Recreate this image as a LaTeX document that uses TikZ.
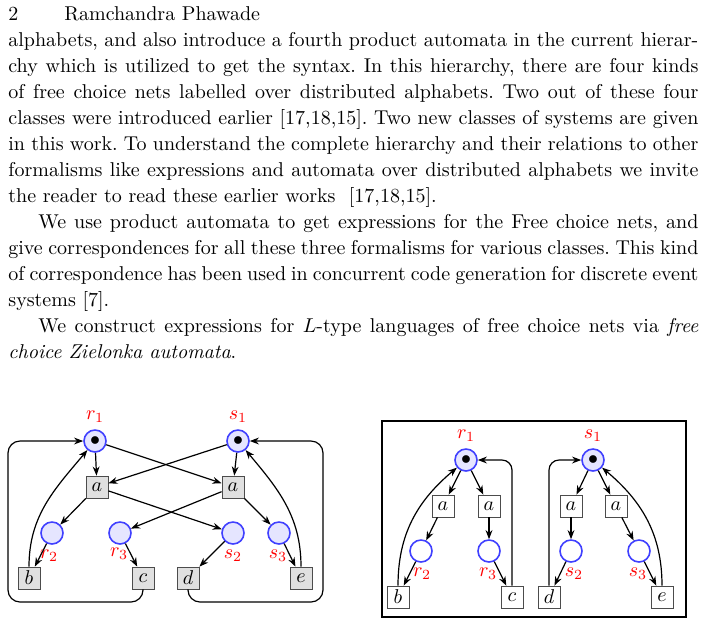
\documentclass[tikz,border=0pt]{standalone}
\usepackage{amsmath}
\usetikzlibrary{arrows, positioning, arrows.meta, fit, shapes}

\tikzset{
  place/.style={draw=blue!75, circle, fill=blue!10, thick, minimum size=11pt, inner sep=0pt},
  token/.style={place, label={[inner sep=0pt]center:$\bullet$}},
  trans/.style={draw=black!70, fill=black!12, minimum size=11pt, inner sep=0pt},
  wtrans/.style={trans, fill=white},
  plabel/.style={text=red},
  arc/.style={arrows={-Stealth[scale=0.8]}, semithick},
}

\begin{document}
\begin{tikzpicture}[x=0.5pt, y=-0.5pt]
    \useasboundingbox (0,0) rectangle (705,623);
    % Page text
    \node[anchor=base west, inner sep=0pt] (pageno) at (8,20) {2};
    \node[anchor=base west, inner sep=0pt] (author) at (64,20) {Ramchandra Phawade};
    \node[anchor=north west, inner sep=0pt, text width=345pt, align=justify] (body) at (8,32) {%
      \frenchspacing\baselineskip=13pt
      alphabets, and also introduce a fourth product automata in the current hierar-\linebreak
      chy which is utilized to get the syntax. In this hierarchy, there are four kinds
      of free choice nets labelled over distributed alphabets. Two out of these four
      classes were introduced earlier [17,18,15]. Two new classes of systems are given
      in this work. To understand the complete hierarchy and their relations to other
      formalisms like expressions and automata over distributed alphabets we invite
      the reader to read these earlier works~~[17,18,15].\par
      \hspace*{15pt}We use product automata to get expressions for the Free choice nets, and\linebreak
      give correspondences for all these three formalisms for various classes. This kind\linebreak
      of correspondence has been used in concurrent code generation for discrete event\linebreak
      systems [7].\par
      \hspace*{15pt}We construct expressions for $L$-type languages of free choice nets via \emph{free
      choice Zielonka automata}.\par};

    % Left net
    \node[token] (r1) at (95,441) {};
    \node[token] (s1) at (238,441) {};
    \node[trans] (a1) at (97,487) {$a$};
    \node[trans] (a2) at (233,487) {$a$};
    \node[place] (r2) at (52,533) {};
    \node[place] (r3) at (120,533) {};
    \node[place] (s2) at (233,533) {};
    \node[place] (s3) at (279,533) {};
    \node[trans] (b) at (29,578) {$b$};
    \node[trans] (c) at (143,578) {$c$};
    \node[trans] (d) at (188,578) {$d$};
    \node[trans] (e) at (301,578) {$e$};
    \node[plabel, above=0pt of r1] {$r_1$};
    \node[plabel, above=0pt of s1] {$s_1$};
    \node[plabel] at (49,556) {$r_2$};
    \node[plabel] at (119,554) {$r_3$};
    \node[plabel] at (233,556) {$s_2$};
    \node[plabel] at (278,556) {$s_3$};

    \draw[arc] (r1) -- (a1);
    \draw[arc] (r1) -- (a2);
    \draw[arc] (s1) -- (a1);
    \draw[arc] (s1) -- (a2);
    \draw[arc] (a1) -- (r2);
    \draw[arc] (a1) -- (s2);
    \draw[arc] (a2) -- (r3);
    \draw[arc] (a2) -- (s3);
    \draw[arc] (r2) -- (b);
    \draw[arc] (r3) -- (c);
    \draw[arc] (s2) -- (d);
    \draw[arc] (s3) -- (e);
    \draw[arc] (b) to[out=90, in=230] (r1);
    \draw[arc] (e) to[out=90, in=-50] (s1);
    \draw[arc, rounded corners=6pt] (c.south) |- (8,602) |- (r1.west);
    \draw[arc, rounded corners=6pt] (d.south) |- (323,602) |- (s1.east);

    % Right net
    \draw[very thick] (382,421) rectangle (686,617);
    \node[token] (q1) at (466,460) {};
    \node[token] (p1) at (593,460) {};
    \node[wtrans] (qa1) at (443,506) {$a$};
    \node[wtrans] (qa2) at (489,506) {$a$};
    \node[wtrans] (pa1) at (571,506) {$a$};
    \node[wtrans] (pa2) at (616,506) {$a$};
    \node[place, fill=white] (q2) at (421,551) {};
    \node[place, fill=white] (q3) at (489,551) {};
    \node[place, fill=white] (p2) at (571,551) {};
    \node[place, fill=white] (p3) at (639,551) {};
    \node[wtrans] (qb) at (398,597) {$b$};
    \node[wtrans] (qc) at (512,597) {$c$};
    \node[wtrans] (pd) at (549,597) {$d$};
    \node[wtrans] (pe) at (662,597) {$e$};
    \node[plabel, above=0pt of q1] {$r_1$};
    \node[plabel, above=0pt of p1] {$s_1$};
    \node[plabel] at (422,574) {$r_2$};
    \node[plabel] at (488,574) {$r_3$};
    \node[plabel] at (574,574) {$s_2$};
    \node[plabel] at (638,574) {$s_3$};

    \draw[arc] (q1) -- (qa1);
    \draw[arc] (q1) -- (qa2);
    \draw[arc] (p1) -- (pa1);
    \draw[arc] (p1) -- (pa2);
    \draw[arc] (qa1) -- (q2);
    \draw[arc] (qa2) -- (q3);
    \draw[arc] (pa1) -- (p2);
    \draw[arc] (pa2) -- (p3);
    \draw[arc] (q2) -- (qb);
    \draw[arc] (q3) -- (qc);
    \draw[arc] (p2) -- (pd);
    \draw[arc] (p3) -- (pe);
    \draw[arc] (qb) to[out=90, in=220] (q1);
    \draw[arc] (pe) to[out=90, in=-40] (p1);
    \draw[arc, rounded corners=5pt] (qc.north) |- (q1.east);
    \draw[arc, rounded corners=5pt] (pd.north) |- (p1.west);
\end{tikzpicture}
\end{document}
